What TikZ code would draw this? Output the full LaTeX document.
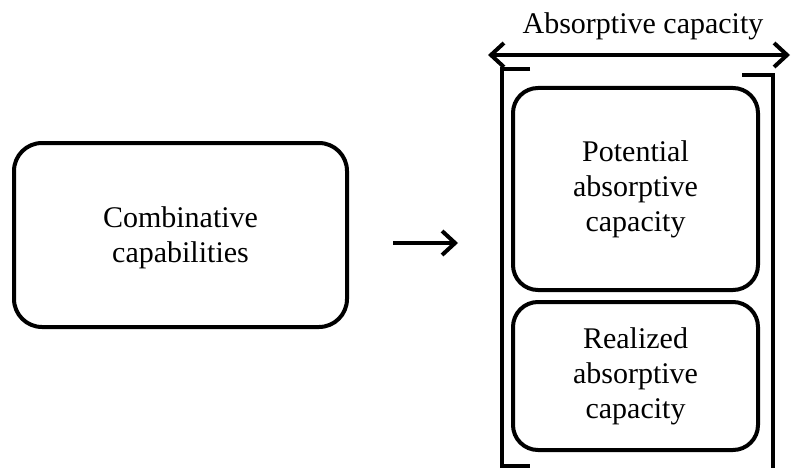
\documentclass[tikz,border=0pt]{standalone}
\usepackage{fontspec}
\setmainfont{Liberation Serif}
\usetikzlibrary{arrows.meta,positioning}

\begin{document}
\begin{tikzpicture}[x=1pt,y=-1pt,font=\fontsize{30}{35}\selectfont,
  box/.style={draw=black,line width=4pt,rounded corners=28pt,
    fill=white,align=center,inner sep=0pt},
  barb/.tip={Straight Barb[length=13pt,width=24pt,line width=4pt]},
  arr/.style={-barb,line width=4pt},
  brk/.style={line width=3.5pt}]
  \useasboundingbox (0,0) rectangle (792,468);

  \node[box,minimum width=333pt,minimum height=184pt,text depth=-12pt]
    (comb) at (180.5,235) {Combinative\\capabilities};

  \node[box,rounded corners=25pt,minimum width=245pt,minimum height=202pt]
    (pot) at (635.5,189) {Potential\\absorptive\\capacity};
  \node[box,rounded corners=25pt,minimum width=245pt,minimum height=148pt]
    (real) at (635.5,376) {Realized\\absorptive\\capacity};

  % bracket round the two boxes
  \coordinate (bl) at (530,69);
  \coordinate (br) at (742,75);
  \draw[brk] (bl) -| (502,466) -- (530,466);
  \draw[brk] (br) -| (773,472);

  % width marker
  \coordinate (wl) at (488,55);
  \coordinate (wr) at (790,55);
  \draw[arr,barb-barb] (wl) -- (wr);
  \node (abs) at (643,26) {Absorptive capacity};

  \coordinate (a1) at (393,243);
  \coordinate (a2) at (458,243);
  \draw[arr] (a1) -- (a2);
\end{tikzpicture}
\end{document}
